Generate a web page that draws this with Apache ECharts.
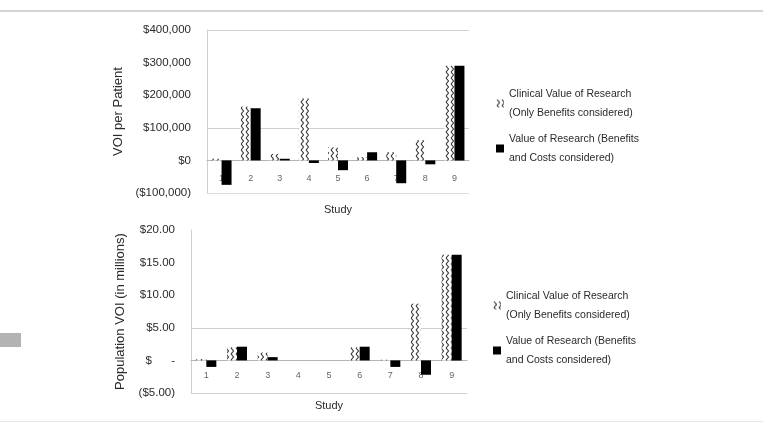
<!DOCTYPE html>
<html>
<head>
<meta charset="utf-8">
<script src="https://cdn.jsdelivr.net/npm/echarts@6/dist/echarts.min.js"></script>
<style>
  html, body { margin: 0; background: #fff; }
  #chart { width: 763px; height: 433px; }
</style>
</head>
<body>
<div id="chart"></div>
<script>
const studies = ['1', '2', '3', '4', '5', '6', '7', '8', '9'];

// VOI per patient ($)
const patientClinical = [5000, 165000, 20000, 190000, 40000, 10000, 25000, 62000, 290000];
const patientValue = [-75000, 160000, 5000, -8000, -30000, 25000, -70000, -12000, 290000];
const patientTicks = ['($100,000)', '$0', '$100,000', '$200,000', '$300,000', '$400,000'];

// population VOI (millions)
const populationClinical = [0.2, 2.0, 1.2, 0, 0, 2.0, 0.1, 8.7, 16.2];
const populationValue = [-1.0, 2.1, 0.5, 0, 0, 2.1, -1.0, -2.2, 16.2];
const populationTicks = ['($5.00)', '$      -', '$5.00', '$10.00', '$15.00', '$20.00'];

const CLIN = 'Clinical Value of Research (Only Benefits considered)';
const VAL = 'Value of Research (Benefits and Costs considered)';
const legendText = {
  [CLIN]: 'Clinical Value of Research\n(Only Benefits considered)',
  [VAL]: 'Value of Research (Benefits\nand Costs considered)',
};

function wavePattern() {
  const c = document.createElement('canvas');
  c.width = 5; c.height = 6;
  const g = c.getContext('2d');
  g.fillStyle = '#fff';
  g.fillRect(0, 0, 5, 6);
  g.strokeStyle = '#333';
  g.lineWidth = 1.1;
  g.beginPath();
  g.moveTo(1, 0); g.lineTo(3.5, 3); g.lineTo(1, 6);
  g.stroke();
  return c;
}
const wave = { image: wavePattern(), repeat: 'repeat' };

const chart = echarts.init(document.getElementById('chart'));
const INK = '#2a2a2a';
const font = 'Liberation Sans, Arial, sans-serif';

// both plots keep 1/5 of their height below zero -> axis sits 32.6px above the bottom
function xAxis(gridIndex, margin, nameGap) {
  return {
    type: 'category', gridIndex, data: studies,
    position: 'bottom', offset: -32.6,
    name: 'Study', nameLocation: 'middle', nameGap,
    nameTextStyle: { color: INK, fontSize: 11, fontFamily: font },
    axisLine: { onZero: false, lineStyle: { color: '#b5b5b5' } },
    axisTick: { show: false },
    axisLabel: { color: '#666', fontSize: 9, margin, fontFamily: font },
  };
}

function yAxis(gridIndex, min, max, interval, ticks, name, nameGap, gridColors) {
  return {
    type: 'value', gridIndex, min, max, interval,
    name, nameLocation: 'middle', nameGap,
    nameTextStyle: { color: INK, fontSize: 13, fontFamily: font },
    axisLine: { show: true, lineStyle: { color: '#cfcfcf' } },
    axisTick: { show: false },
    axisLabel: {
      color: INK, fontSize: 11.5, margin: 16, fontFamily: font,
      formatter: v => ticks[Math.round((v - min) / interval)],
    },
    splitLine: { show: true, lineStyle: { color: gridColors } },
  };
}

function legend(left, top) {
  return {
    orient: 'vertical', left, top, padding: 0,
    icon: 'rect', itemWidth: 8, itemHeight: 8, itemGap: -12,
    data: [CLIN, VAL],
    formatter: n => legendText[n],
    textStyle: { color: INK, fontSize: 10.5, lineHeight: 19, padding: [19, 0, 0, 0], fontFamily: font },
  };
}

function bars(name, xi, data, color) {
  return {
    name, type: 'bar', xAxisIndex: xi, yAxisIndex: xi, data,
    barWidth: 10, barGap: '0%',
    itemStyle: { color },
    emphasis: { disabled: true },
  };
}

chart.setOption({
  backgroundColor: '#fff',
  animation: false,
  grid: [
    { left: 207, right: 294, top: 30, bottom: 240 },
    { left: 191, right: 296, top: 230, bottom: 40 },
  ],
  legend: [legend(496, 75), legend(493, 277)],
  xAxis: [xAxis(0, 14, 44), xAxis(1, 11, 40)],
  yAxis: [
    yAxis(0, -100000, 400000, 100000, patientTicks, 'VOI per Patient', 82,
      ['#dcdcdc', '#d0d0d0', '#cfcfcf', 'transparent', 'transparent', '#d0d0d0']),
    yAxis(1, -5, 20, 5, populationTicks, 'Population VOI (in millions)', 64,
      ['#cfcfcf', '#d0d0d0', '#cfcfcf', 'transparent', 'transparent', 'transparent']),
  ],
  series: [
    bars(CLIN, 0, patientClinical, wave),
    bars(VAL, 0, patientValue, '#000'),
    bars(CLIN, 1, populationClinical, wave),
    bars(VAL, 1, populationValue, '#000'),
  ],
  graphic: [
    { type: 'rect', shape: { x: 0, y: 10, width: 763, height: 2 }, style: { fill: '#d4d4d4' }, silent: true },
    { type: 'rect', shape: { x: 0, y: 421, width: 763, height: 1 }, style: { fill: '#e6e6e6' }, silent: true },
    { type: 'rect', shape: { x: 0, y: 333, width: 21, height: 14 }, style: { fill: '#b3b3b3' }, silent: true },
  ],
});
</script>
</body>
</html>
